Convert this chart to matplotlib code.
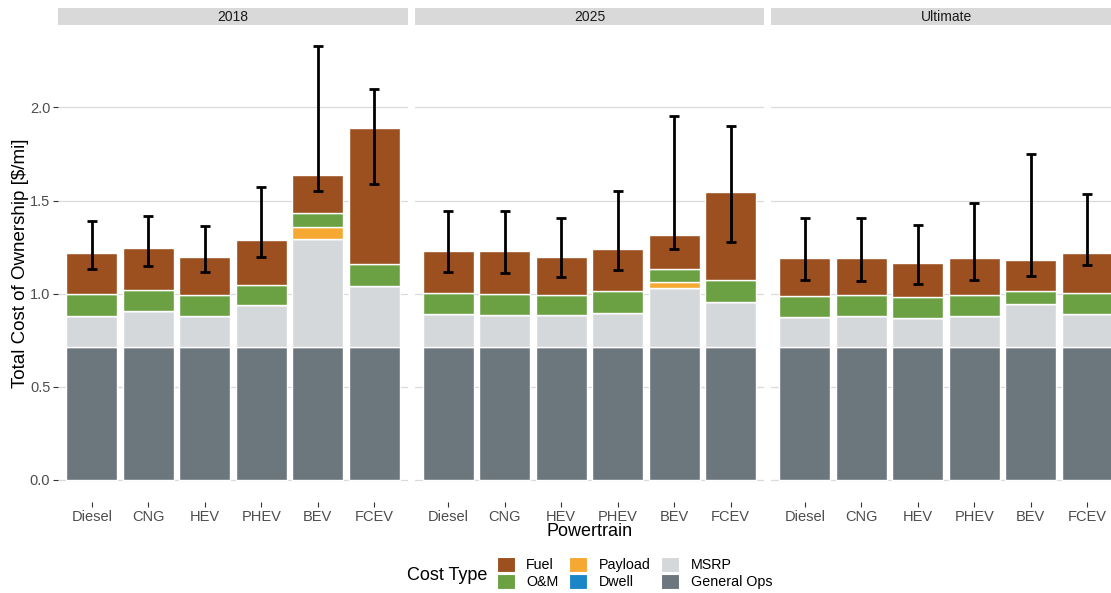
import matplotlib
matplotlib.use("Agg")
import matplotlib.pyplot as plt
from matplotlib.patches import Patch
import numpy as np

plt.rcParams['font.family'] = ['Liberation Sans', 'DejaVu Sans']

# ---------------- data ----------------
panels = ["2018", "2025", "Ultimate"]
powertrains = ["Diesel", "CNG", "HEV", "PHEV", "BEV", "FCEV"]
cost_types = ["Fuel", "O&M", "Payload", "Dwell", "MSRP", "General Ops"]
colors = {
    "Fuel": "#9C4F1F",
    "O&M": "#6BA043",
    "Payload": "#F5A832",
    "Dwell": "#1A86C8",
    "MSRP": "#D5D8DB",
    "General Ops": "#6C767D",
}

general_ops = {
    "2018":     [0.715, 0.715, 0.715, 0.715, 0.715, 0.715],
    "2025":     [0.715, 0.715, 0.715, 0.715, 0.715, 0.715],
    "Ultimate": [0.715, 0.715, 0.715, 0.715, 0.715, 0.715],
}
msrp = {
    "2018":     [0.166, 0.191, 0.166, 0.222, 0.581, 0.329],
    "2025":     [0.175, 0.173, 0.168, 0.184, 0.316, 0.243],
    "Ultimate": [0.161, 0.164, 0.154, 0.163, 0.229, 0.175],
}
dwell = {
    "2018":     [0.0, 0.0, 0.0, 0.0, 0.0, 0.0],
    "2025":     [0.0, 0.0, 0.0, 0.0, 0.0, 0.0],
    "Ultimate": [0.0, 0.0, 0.0, 0.0, 0.0, 0.0],
}
payload = {
    "2018":     [0.0, 0.0, 0.0, 0.0, 0.062, 0.0],
    "2025":     [0.0, 0.0, 0.0, 0.0, 0.031, 0.0],
    "Ultimate": [0.0, 0.0, 0.0, 0.0, 0.0, 0.0],
}
om = {
    "2018":     [0.115, 0.113, 0.113, 0.112, 0.075, 0.114],
    "2025":     [0.116, 0.113, 0.112, 0.114, 0.073, 0.114],
    "Ultimate": [0.112, 0.113, 0.114, 0.114, 0.073, 0.116],
}
fuel = {
    "2018":     [0.223, 0.227, 0.205, 0.241, 0.202, 0.733],
    "2025":     [0.224, 0.229, 0.204, 0.229, 0.182, 0.472],
    "Ultimate": [0.204, 0.202, 0.182, 0.202, 0.164, 0.215],
}
err_low = {
    "2018":     [1.133, 1.149, 1.114, 1.196, 1.553, 1.589],
    "2025":     [1.115, 1.110, 1.092, 1.128, 1.239, 1.276],
    "Ultimate": [1.072, 1.069, 1.053, 1.072, 1.096, 1.155],
}
err_high = {
    "2018":     [1.392, 1.416, 1.364, 1.575, 2.329, 2.097],
    "2025":     [1.442, 1.444, 1.405, 1.550, 1.952, 1.902],
    "Ultimate": [1.408, 1.408, 1.367, 1.487, 1.752, 1.534],
}
y_ticks = [0.0, 0.5, 1.0, 1.5, 2.0]
y_ticklabels = ["0.0", "0.5", "1.0", "1.5", "2.0"]

# ---------------- layout ----------------
W, H = 1111, 593
fig = plt.figure(figsize=(W / 100, H / 100), dpi=100)

panel_left_px = [58.0, 414.5, 771.0]
panel_w_px = 350.0
panel_top_px = 24.5
panel_bot_px = 501.7
strip_top_px = 8.0
strip_bot_px = 25.0

stack_order = [("General Ops", general_ops), ("MSRP", msrp), ("Dwell", dwell),
               ("Payload", payload), ("O&M", om), ("Fuel", fuel)]

x = np.arange(1, len(powertrains) + 1)
grid_col = "#DADADA"
txt_col = "#4D4D4D"

for i, p in enumerate(panels):
    l = panel_left_px[i] / W
    b = 1 - panel_bot_px / H
    h = (panel_bot_px - panel_top_px) / H
    ax = fig.add_axes([l, b, panel_w_px / W, h])
    ax.set_xlim(0.4, 6.6)
    ax.set_ylim(-0.1165, 2.445)
    for s in ax.spines.values():
        s.set_visible(False)
    ax.set_yticks(y_ticks)
    ax.yaxis.grid(True, color=grid_col, lw=0.9)
    ax.set_axisbelow(True)
    ax.set_xticks(x)
    ax.set_xticklabels(powertrains, fontsize=10.5, color=txt_col)
    ax.tick_params(axis='x', length=3.5, width=0.8, color="#333333", pad=2.5)
    if i == 0:
        ax.set_yticklabels(y_ticklabels, fontsize=10.5, color=txt_col)
        ax.tick_params(axis='y', length=3.5, width=0.8, color="#333333", pad=2)
        ax.set_ylabel("Total Cost of Ownership [$/mi]", fontsize=13.5)
        ax.yaxis.set_label_coords((29 - 58) / panel_w_px, 0.5)
    else:
        ax.tick_params(axis='y', length=0, labelleft=False)

    bottom = np.zeros(len(powertrains))
    for name, d in stack_order:
        vals = np.array(d[p])
        ax.bar(x, vals, width=0.9, bottom=bottom, color=colors[name],
               edgecolor="white", linewidth=1.0, zorder=2)
        bottom = bottom + vals

    lo = np.array(err_low[p])
    hi = np.array(err_high[p])
    ax.vlines(x, lo, hi, color="black", lw=2.0, zorder=3)
    ax.hlines(lo, x - 0.09, x + 0.09, color="black", lw=2.0, zorder=3)
    ax.hlines(hi, x - 0.09, x + 0.09, color="black", lw=2.0, zorder=3)

    # facet strip
    sax = fig.add_axes([l, 1 - strip_bot_px / H, panel_w_px / W,
                        (strip_bot_px - strip_top_px) / H])
    sax.set_facecolor("#D9D9D9")
    sax.set_xticks([]); sax.set_yticks([])
    for s in sax.spines.values():
        s.set_visible(False)
    sax.text(0.5, 0.45, p, ha="center", va="center", fontsize=10,
             color="#1A1A1A", transform=sax.transAxes)

# x axis title
fig.text(590 / W, 1 - 532 / H, "Powertrain", ha="center", va="center", fontsize=13)

# legend
fig.text(407 / W, 1 - 576 / H, "Cost Type", ha="left", va="center", fontsize=13)
handles = [Patch(facecolor=colors[c], edgecolor="white", linewidth=0.8) for c in cost_types]
fig.legend(handles, cost_types, loc="center left",
           bbox_to_anchor=(497 / W, 1 - 573 / H), ncol=3, frameon=False,
           fontsize=10.3, handlelength=1.25, handleheight=1.25,
           handletextpad=0.8, columnspacing=0.75, labelspacing=0.15,
           borderpad=0.0, borderaxespad=0.0)

fig.savefig("out.png", dpi=100)
